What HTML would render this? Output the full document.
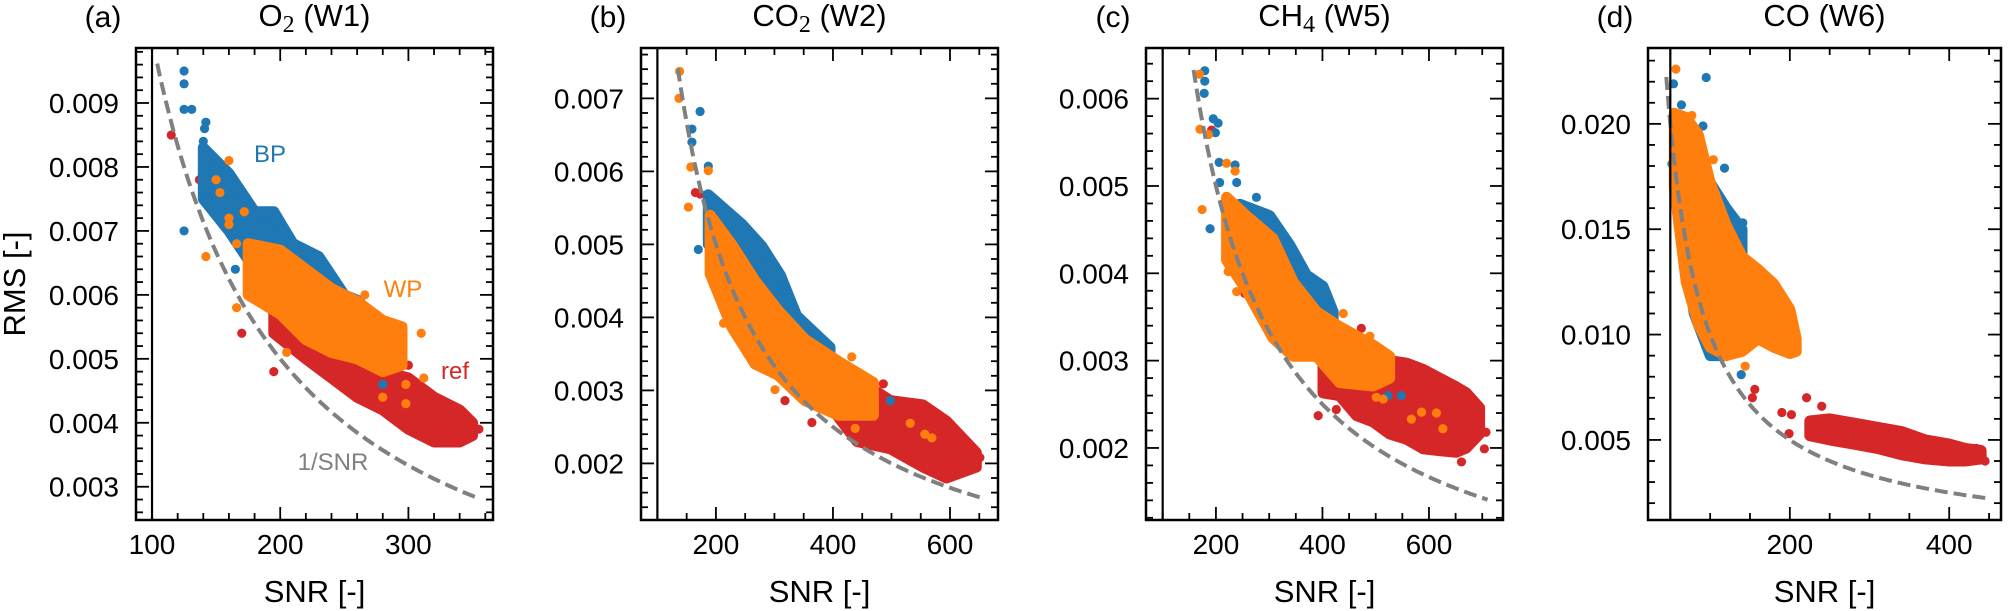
<!DOCTYPE html>
<html><head><meta charset="utf-8"><style>
html,body{margin:0;padding:0;background:#fff;}
svg{display:block;font-family:"Liberation Sans",sans-serif;}
</style></head><body>
<svg id="fig" width="2010" height="611" viewBox="0 0 2010 611"></svg>
<script>
// ---- data: panel (a) O2 ----
const aBlueX=[140,160,180,195,210,230,250,262];
const aBlueHi=[0.0083,0.0079,0.0073,0.0073,0.0068,0.0066,0.0060,0.0059];
const aBlueLo=[0.0075,0.0070,0.0064,0.0061,0.0058,0.0057,0.0056,0.0057];
const aBlueOutX=[125,125,125,131,142,141,140,125,165,190,280,143];
const aBlueOutY=[0.0095,0.0093,0.0089,0.0089,0.0087,0.0086,0.0084,0.0070,0.0064,0.0058,0.0046,0.0075];
const aOrangeX=[175,200,220,240,260,280,295];
const aOrangeHi=[0.0068,0.0067,0.0064,0.0061,0.0059,0.0056,0.0055];
const aOrangeLo=[0.0060,0.0057,0.0053,0.0051,0.0050,0.0048,0.0049];
const aOrangeOutX=[160,150,153,160,172,160,142,166,166,205,310,298,312,298,280,266];
const aOrangeOutY=[0.0081,0.0078,0.0076,0.0072,0.0073,0.0071,0.0066,0.0068,0.0058,0.0051,0.0054,0.0046,0.0047,0.0043,0.0044,0.0060];
const aRedX=[195,220,240,260,280,300,320,340,350];
const aRedHi=[0.0058,0.0054,0.0051,0.0050,0.0048,0.0047,0.0044,0.0042,0.0040];
const aRedLo=[0.0054,0.0050,0.0047,0.0044,0.0042,0.0039,0.0037,0.0037,0.0038];
const aRedOutX=[115,137,140,170,195,180,355,300];
const aRedOutY=[0.0085,0.0078,0.0079,0.0054,0.0048,0.0064,0.0039,0.0049];
// ---- panel (b) CO2 ----
const bBlueX=[187,244,278,310,338,395];
const bBlueHi=[0.00568,0.00528,0.00498,0.00458,0.00402,0.00359];
const bBlueLo=[0.0050,0.0045,0.0042,0.0039,0.0036,0.0032];
const bBlueOutX=[173,159,159,187,170,498];
const bBlueOutY=[0.00682,0.00658,0.0064,0.00607,0.00493,0.00286];
const bOrangeX=[190,227,267,306,352,409,469];
const bOrangeHi=[0.0054,0.0050,0.0045,0.0041,0.0037,0.0034,0.00311];
const bOrangeLo=[0.0046,0.00387,0.00336,0.00321,0.00286,0.00266,0.00266];
const bOrangeOutX=[138,137,157,187,153,213,301,432,557,569,532,438];
const bOrangeOutY=[0.00737,0.0070,0.00606,0.00601,0.00551,0.00392,0.00301,0.00346,0.0024,0.00235,0.00255,0.00248];
const bRedX=[384,441,498,554,594,645];
const bRedHi=[0.00346,0.00316,0.00286,0.0028,0.00258,0.00215];
const bRedLo=[0.0029,0.0023,0.0022,0.00195,0.0018,0.00195];
const bRedOutX=[165,173,318,364,347,486,651];
const bRedOutY=[0.00571,0.00569,0.00286,0.00256,0.00392,0.00309,0.00208];
// ---- panel (c) CH4 ----
const cBlueX=[245,301,339,370,401,420];
const cBlueHi=[0.00479,0.00466,0.00432,0.00398,0.00385,0.00356];
const cBlueLo=[0.00415,0.0038,0.0035,0.00343,0.0034,0.00335];
const cBlueOutX=[179,179,178,195,204,199,206,236,207,239,276,189,523,548];
const cBlueOutY=[0.00632,0.0062,0.00606,0.00577,0.00572,0.00561,0.00527,0.00524,0.00504,0.00504,0.00487,0.00451,0.0026,0.0026];
const cOrangeX=[220,257,307,345,389,432,495,526];
const cOrangeHi=[0.00487,0.00466,0.0044,0.0039,0.00356,0.00339,0.00318,0.00305];
const cOrangeLo=[0.00415,0.00381,0.00326,0.00305,0.00305,0.00275,0.00271,0.0028];
const cOrangeOutX=[169,170,186,220,236,174,239,223,439,489,501,514,567,586,614,626];
const cOrangeOutY=[0.00628,0.00565,0.00559,0.00526,0.00517,0.00473,0.00379,0.00402,0.00354,0.00328,0.00258,0.00256,0.00233,0.00241,0.0024,0.00222];
const cRedX=[401,432,464,495,526,558,589,620,651,670,695];
const cRedHi=[0.0030,0.00339,0.0032,0.00313,0.0030,0.00297,0.0029,0.0028,0.0027,0.00263,0.00246];
const cRedLo=[0.00263,0.0026,0.00237,0.0023,0.00216,0.0021,0.00199,0.00197,0.00195,0.002,0.00216];
const cRedOutX=[392,426,661,704,707,473,254,192];
const cRedOutY=[0.00237,0.00244,0.00184,0.00199,0.00218,0.00337,0.00377,0.00564];
// ---- panel (d) CO ----
const dBlueX=[60,80,100,120,140];
const dBlueHi=[0.0195,0.0190,0.0172,0.0160,0.0150];
const dBlueLo=[0.0165,0.0110,0.0090,0.0090,0.0095];
const dBlueOutX=[54,95,64,91,118,141,139,52];
const dBlueOutY=[0.0219,0.0222,0.0209,0.0199,0.0179,0.0153,0.0081,0.0181];
const dOrangeX=[55,70,85,100,120,140,160,180,200,208];
const dOrangeHi=[0.0205,0.0203,0.0195,0.0172,0.0152,0.0137,0.0131,0.0124,0.0112,0.0098];
const dOrangeLo=[0.0170,0.0125,0.0105,0.0094,0.0090,0.0092,0.0098,0.0094,0.0091,0.0092];
const dOrangeOutX=[57,77,104,144,192];
const dOrangeOutY=[0.0226,0.0204,0.0183,0.0085,0.0114];
const dRedX=[225,250,280,310,340,370,400,420,440];
const dRedHi=[0.0059,0.0060,0.0058,0.0056,0.0054,0.0050,0.0048,0.0046,0.0045];
const dRedLo=[0.0052,0.0050,0.0048,0.0046,0.0043,0.0041,0.0040,0.0040,0.0041];
const dRedOutX=[156,153,190,202,199,221,240,445,434];
const dRedOutY=[0.0074,0.0070,0.0063,0.0062,0.0053,0.0070,0.0066,0.0040,0.0046];
// tick labels
const aXTicks=[100,200,300], aYTicks=[0.003,0.004,0.005,0.006,0.007,0.008,0.009];
const bXTicks=[200,400,600], bYTicks=[0.002,0.003,0.004,0.005,0.006,0.007];
const cXTicks=[200,400,600], cYTicks=[0.002,0.003,0.004,0.005,0.006];
const dXTicks=[200,400], dYTicks=[0.005,0.010,0.015,0.020];

const NS="http://www.w3.org/2000/svg";
const svg=document.getElementById('fig');
const BLUE="#1f77b4",ORANGE="#ff7f0e",RED="#d62728";
function mk(tag,attrs,parent){const e=document.createElementNS(NS,tag);for(const k in attrs)e.setAttribute(k,attrs[k]);(parent||svg).appendChild(e);return e;}

const panels=[
 {id:'a',L:136,R:493,x0:87.5,x1:366,y0:0.00248,y1:0.00986,xt:aXTicks,yt:aYTicks,xm:20,ym:0.0002,vline:100,curve:[104,355],sub:'2',pre:'O',post:' (W1)',
  series:[[aRedX,aRedHi,aRedLo,aRedOutX,aRedOutY,RED,'ref'],[aBlueX,aBlueHi,aBlueLo,aBlueOutX,aBlueOutY,BLUE,'bp'],[aOrangeX,aOrangeHi,aOrangeLo,aOrangeOutX,aOrangeOutY,ORANGE,'wp']]},
 {id:'b',L:641,R:998,x0:72,x1:682,y0:0.001225,y1:0.00769,xt:bXTicks,yt:bYTicks,xm:50,ym:0.0002,vline:100,curve:[135,660],sub:'2',pre:'CO',post:' (W2)',
  series:[[bRedX,bRedHi,bRedLo,bRedOutX,bRedOutY,RED,'ref'],[bBlueX,bBlueHi,bBlueLo,bBlueOutX,bBlueOutY,BLUE,'bp'],[bOrangeX,bOrangeHi,bOrangeLo,bOrangeOutX,bOrangeOutY,ORANGE,'wp']]},
 {id:'c',L:1146,R:1503,x0:68.7,x1:739,y0:0.001175,y1:0.00658,xt:cXTicks,yt:cYTicks,xm:50,ym:0.0002,vline:100,curve:[158,710],sub:'4',pre:'CH',post:' (W5)',
  series:[[cRedX,cRedHi,cRedLo,cRedOutX,cRedOutY,RED,'ref'],[cBlueX,cBlueHi,cBlueLo,cBlueOutX,cBlueOutY,BLUE,'bp'],[cOrangeX,cOrangeHi,cOrangeLo,cOrangeOutX,cOrangeOutY,ORANGE,'wp']]},
 {id:'d',L:1648,R:2001,x0:22,x1:465,y0:0.0012,y1:0.0236,xt:dXTicks,yt:dYTicks,xm:50,ym:0.001,vline:50,curve:[45,450],sub:'',pre:'CO',post:' (W6)',
  series:[[dRedX,dRedHi,dRedLo,dRedOutX,dRedOutY,RED,'ref'],[dBlueX,dBlueHi,dBlueLo,dBlueOutX,dBlueOutY,BLUE,'bp'],[dOrangeX,dOrangeHi,dOrangeLo,dOrangeOutX,dOrangeOutY,ORANGE,'wp']]}
];
const T=48,B=520;

panels.forEach(p=>{
  const g=mk('g',{});
  
  
  const X=v=>p.L+(v-p.x0)/(p.x1-p.x0)*(p.R-p.L);
  const Y=v=>B-(v-p.y0)/(p.y1-p.y0)*(B-T);
  const cp=mk('clipPath',{id:'clip'+p.id},g);mk('rect',{x:p.L,y:T,width:p.R-p.L,height:B-T},cp);
  const plot=mk('g',{'clip-path':'url(#clip'+p.id+')'},g);
  p.series.forEach(s=>{
    const [xs,hi,lo,ox,oy,col,nm]=s;
    const sg=mk('g',{},plot);
    
    
    let pts=[];
    for(let i=0;i<xs.length;i++)pts.push(X(xs[i]).toFixed(1)+','+Y(hi[i]).toFixed(1));
    for(let i=xs.length-1;i>=0;i--)pts.push(X(xs[i]).toFixed(1)+','+Y(lo[i]).toFixed(1));
    const poly=mk('polygon',{points:pts.join(' '),fill:col,stroke:col,'stroke-width':11,'stroke-linejoin':'round'},sg);
    
    
    for(let i=0;i<ox.length;i++){
      const c=mk('circle',{cx:X(ox[i]),cy:Y(oy[i]),r:4.6,fill:col},sg);
      
      
    }
  });
  const vl=mk('line',{x1:X(p.vline),x2:X(p.vline),y1:T,y2:B,stroke:'#000','stroke-width':2.2},g);
  
  
  let d='';for(let i=0;i<=120;i++){const s=p.curve[0]+(p.curve[1]-p.curve[0])*i/120;d+=(i?'L':'M')+X(s).toFixed(1)+','+Y(1/s).toFixed(1);}
  const cv=mk('path',{d:d,fill:'none',stroke:'#808080','stroke-width':4,'stroke-dasharray':'13,6'},plot);
  
  
  const fr=mk('rect',{x:p.L,y:T,width:p.R-p.L,height:B-T,fill:'none',stroke:'#000','stroke-width':2.5},g);
  
  
  const tk=mk('g',{stroke:'#000','stroke-width':1.8},g);
  
  
  const xmin0=Math.ceil(p.x0/p.xm)*p.xm;
  for(let v=xmin0;v<=p.x1;v+=p.xm){const x=X(v);const maj=p.xt.some(t=>Math.abs(t-v)<1e-6);const l=maj?13:7;
    mk('line',{x1:x,x2:x,y1:B,y2:B-l},tk);mk('line',{x1:x,x2:x,y1:T,y2:T+l},tk);}
  for(let k=Math.ceil(p.y0/p.ym);k*p.ym<=p.y1;k++){const v=k*p.ym;const y=Y(v);const maj=p.yt.some(t=>Math.abs(t-v)<1e-9);const l=maj?13:7;
    mk('line',{x1:p.L,x2:p.L+l,y1:y,y2:y},tk);mk('line',{x1:p.R,x2:p.R-l,y1:y,y2:y},tk);}
  p.xt.forEach(v=>{const t=mk('text',{x:X(v),y:554,'font-size':28,'text-anchor':'middle'},g);t.textContent=String(v);
    });
  p.yt.forEach(v=>{const t=mk('text',{x:p.L-17,y:Y(v)+10,'font-size':28,'text-anchor':'end'},g);t.textContent=v.toFixed(3);
    });
  const xl=mk('text',{x:(p.L+p.R)/2,y:602,'font-size':31,'text-anchor':'middle'},g);xl.textContent='SNR [-]';
  
  const pl=mk('text',{x:p.L-33,y:27,'font-size':30,'text-anchor':'middle'},g);pl.textContent='('+p.id+')';
  
  const tt=mk('text',{x:(p.L+p.R)/2,y:26,'font-size':31,'text-anchor':'middle'},g);
  
  const t1=mk('tspan',{},tt);t1.textContent=p.pre;
  if(p.sub){const t2=mk('tspan',{'font-family':'Liberation Serif, serif','font-size':24,dy:6},tt);t2.textContent=p.sub;
    const t3=mk('tspan',{dy:-6},tt);t3.textContent=p.post;} else {const t3=mk('tspan',{},tt);t3.textContent=p.post;}
});
const yl=mk('text',{x:0,y:0,'font-size':31,'text-anchor':'middle',transform:'translate(25,284) rotate(-90)'});
yl.textContent='RMS [-]';


[['BP',270,162,BLUE,'bp-annotation'],['WP',403,297,ORANGE,'wp-annotation'],['ref',455,379,RED,'ref-annotation'],['1/SNR',333,470,'#808080','snr-annotation']].forEach(a=>{
  const t=mk('text',{x:a[1],y:a[2],'font-size':24,'text-anchor':'middle',fill:a[3]});t.textContent=a[0];
  
  
});
</script>
</body></html>
